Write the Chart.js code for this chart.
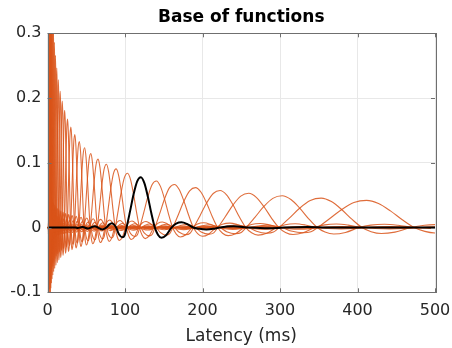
<!DOCTYPE html>
<html><head><meta charset="utf-8">
<script src="https://cdn.jsdelivr.net/npm/chart.js@4.4.1/dist/chart.umd.min.js"></script>
<style>html,body{margin:0;padding:0;background:#fff}#wrap{width:452px;height:348px}</style>
</head><body><div id="wrap"><canvas id="c" width="452" height="348"></canvas></div>
<script>
// Highlighted (black) basis function: latency (ms) and value
const latencyMs = [0, 36, 39, 42, 45, 48, 52, 56, 61, 65, 71, 76, 79.5, 83, 86, 88.6, 92, 96.5, 99.5, 102, 106.5, 111, 115.7, 120.5, 125, 129.5, 134, 138.5, 142.5, 147, 153, 160, 166, 173, 180, 188, 196, 205, 214, 222, 240, 260, 285, 305, 335, 360, 420, 500];
const highlightedValues = [0, 0, -0.0006, 0, 0.001, 0, -0.0015, 0, 0.0022, 0, -0.003, 0, 0.0045, 0.0068, 0.0045, 0, -0.010, -0.015, -0.012, 0, 0.025, 0.051, 0.0714, 0.0777, 0.0686, 0.0477, 0.0221, 0, -0.011, -0.0158, -0.012, 0, 0.006, 0.008, 0.0055, 0, -0.002, -0.003, -0.002, 0, 0.002, 0, -0.0012, 0, 0.0008, 0, 0, 0];
const highlightedCenter = 120.5;
const highlightedPeak = 0.0777;

// Other (orange) basis functions: centre latency (ms) and peak value
const basisCenters = [2.6, 3.0, 3.5, 4.1, 4.8, 5.6, 6.5, 7.6, 8.9, 10.3, 12.0, 14.0, 16.4, 19.1, 22.2, 25.9, 30.2, 35.3, 41.1, 47.9, 55.9, 65.2, 76.0, 88.6, 103.3, 140.5, 163.8, 191.0, 222.7, 259.7, 302.8, 353.1, 411.7];
const basisPeaks = [0.529, 0.4925, 0.456, 0.421, 0.389, 0.3604, 0.3345, 0.3094, 0.2859, 0.2658, 0.2462, 0.228, 0.2106, 0.1952, 0.181, 0.1676, 0.1552, 0.1436, 0.133, 0.1232, 0.1141, 0.1056, 0.0978, 0.0906, 0.0839, 0.072, 0.0666, 0.0617, 0.0572, 0.0529, 0.049, 0.0454, 0.042];

const xTickValues = [0, 100, 200, 300, 400, 500];
const xTickLabels = ['0', '100', '200', '300', '400', '500'];
const yTickValues = [-0.1, 0, 0.1, 0.2, 0.3];
const yTickLabels = ['-0.1', '0', '0.1', '0.2', '0.3'];

const ORANGE = 'rgba(217,83,25,0.85)';
const FONT = 'DejaVu Sans';

const datasets = [{
  data: latencyMs.map((t, i) => ({x: t, y: highlightedValues[i]})),
  borderColor: '#000000', borderWidth: 2, pointRadius: 0, cubicInterpolationMode: 'monotone', fill: false
}];
basisCenters.forEach((c, k) => {
  const s = c / highlightedCenter;
  const a = basisPeaks[k] / highlightedPeak;
  datasets.push({
    data: latencyMs.map((t, i) => ({x: t * s, y: highlightedValues[i] * a})),
    borderColor: ORANGE, borderWidth: 1.1, pointRadius: 0, cubicInterpolationMode: 'monotone', fill: false
  });
});

const boxPlugin = {
  id: 'box',
  afterLayout(chart) {
    // centre the title over the plot area, as in the reference
    if (chart.titleBlock) {
      chart.titleBlock.left = chart.chartArea.left;
      chart.titleBlock.right = chart.chartArea.right;
    }
  },
  afterDatasetsDraw(chart) {
    const {ctx, chartArea: ca, scales} = chart;
    ctx.save();
    ctx.strokeStyle = '#6f6f6f';
    ctx.lineWidth = 1;
    ctx.strokeRect(Math.round(ca.left) + 0.5, Math.round(ca.top) + 0.5, Math.round(ca.right - ca.left), Math.round(ca.bottom - ca.top));
    ctx.beginPath();
    xTickValues.forEach(v => {
      const x = Math.round(scales.x.getPixelForValue(v)) + 0.5;
      ctx.moveTo(x, ca.bottom); ctx.lineTo(x, ca.bottom - 4);
      ctx.moveTo(x, ca.top); ctx.lineTo(x, ca.top + 4);
    });
    yTickValues.forEach(v => {
      const y = Math.round(scales.y.getPixelForValue(v)) + 0.5;
      ctx.moveTo(ca.left, y); ctx.lineTo(ca.left + 4, y);
      ctx.moveTo(ca.right, y); ctx.lineTo(ca.right - 4, y);
    });
    ctx.stroke();
    ctx.restore();
  }
};

new Chart(document.getElementById('c'), {
  type: 'line',
  data: {datasets},
  plugins: [boxPlugin],
  options: {
    responsive: false,
    animation: false,
    events: [],
    layout: {padding: {left: 0, right: 0, top: 0, bottom: 0}},
    plugins: {
      legend: {display: false},
      tooltip: {enabled: false},
      title: {
        display: true, text: 'Base of functions', color: '#000000',
        font: {family: FONT, size: 17, weight: 'bold'},
        padding: {top: 7.3, bottom: 5.6}
      }
    },
    scales: {
      x: {
        type: 'linear', min: 0, max: 500,
        afterBuildTicks(scale) { scale.ticks = xTickValues.map(v => ({value: v})); },
        afterFit(scale) { scale.height = 55.7; scale.paddingLeft = 0; scale.paddingRight = 17; },
        ticks: {
          color: '#262626', font: {family: FONT, size: 16}, padding: 9,
          maxRotation: 0, autoSkip: false,
          callback: (v, i) => xTickLabels[i]
        },
        grid: {color: '#e8e8e8', drawTicks: false},
        border: {display: false},
        title: {display: true, text: 'Latency (ms)', color: '#262626', font: {family: FONT, size: 17}, padding: {top: 0, bottom: 1.1}}
      },
      y: {
        type: 'linear', min: -0.1, max: 0.3,
        afterBuildTicks(scale) { scale.ticks = yTickValues.map(v => ({value: v})); },
        afterFit(scale) { scale.width = 47.5; scale.paddingTop = 0; scale.paddingBottom = 0; },
        ticks: {
          color: '#262626', font: {family: FONT, size: 16}, padding: 6,
          autoSkip: false,
          callback: (v, i) => yTickLabels[i]
        },
        grid: {color: '#e8e8e8', drawTicks: false},
        border: {display: false}
      }
    }
  }
});
</script></body></html>
